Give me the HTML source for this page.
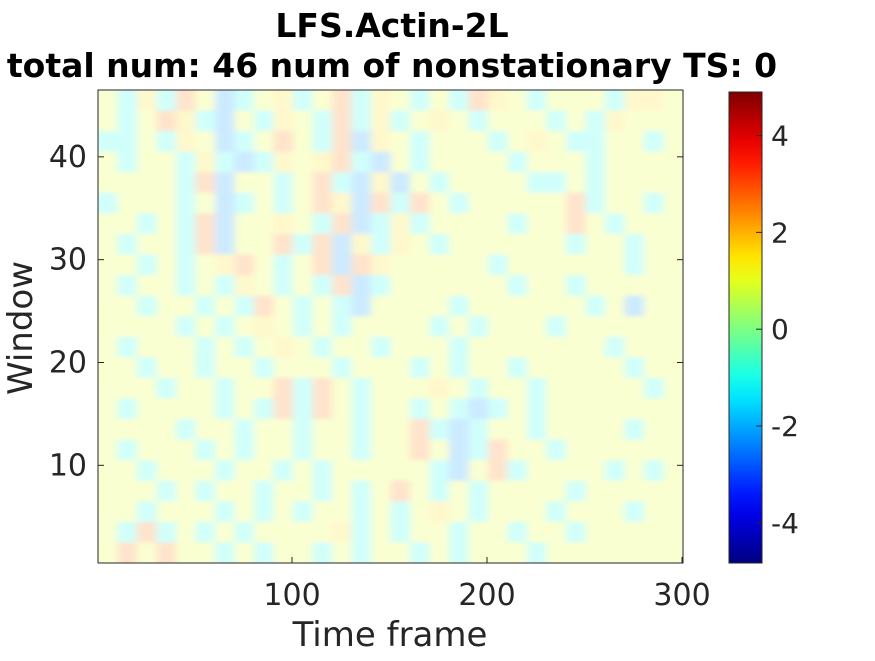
<!DOCTYPE html>
<html><head><meta charset="utf-8">
<style>
html,body{margin:0;padding:0;background:#fff;}
body{width:875px;height:656px;overflow:hidden;font-family:"Liberation Sans","DejaVu Sans",sans-serif;}
</style></head>
<body>
<svg id="chart" width="875" height="656" xmlns="http://www.w3.org/2000/svg" font-family="'DejaVu Sans','Liberation Sans',sans-serif">
<defs>
<clipPath id="pc"><rect x="98" y="90" width="585" height="473"/></clipPath>
<filter id="bl" x="-5%" y="-5%" width="110%" height="110%"><feGaussianBlur stdDeviation="4 2"/></filter>
</defs>
<text x="392" y="37" text-anchor="middle" font-size="33" font-weight="bold">LFS.Actin-2L</text>
<text x="392" y="77" text-anchor="middle" font-size="33" font-weight="bold">total num: 46 num of nonstationary TS: 0</text>
<rect x="98" y="90" width="585" height="473" fill="#f5fad9"/>
<g clip-path="url(#pc)"><g id="cells" filter="url(#bl)"></g></g>
<rect x="98" y="90" width="585" height="473" fill="none" stroke="#262626" stroke-width="1"/>
<g id="axes"></g>
<text x="390" y="646" text-anchor="middle" font-size="34" fill="#262626">Time frame</text>
<text transform="translate(32,328) rotate(-90)" text-anchor="middle" font-size="34" fill="#262626">Window</text>
<g id="cbar"></g>
</svg>
<script>
const xTicks=[100,200,300];
const yTicks=[10,20,30,40];
const cbTicks=[-4,-2,0,2,4];
const levelKeys=['a','b','c','d','e','f','g'];
const levelValues=[-3,-2.2,-1,1,1.6,2.6,3.5];
// rows from window 45-46 (top) down to 1-2; each char = 10 frames
const rows=[
"dcecfdbcdecdfcedcdcfedcdddceed",
"dcdfecbdcedcfcecdedcdddcdceddd",
"ccdcedbcdfdcfbedcdddcdedccddcd",
"dcddcecbcedefcbdcddddcdddcdddd",
"ddddcfbddcdfcbebdcddddccdcdddd",
"cdddcdbcdcdfebfcfdcdddddfcddcd",
"ddcdcfbddedcfbcecddddcddfdcddd",
"dcddcfbddfcfbecedcddddddcddcdd",
"ddcdcdefdcdfbfedddddcddddddcdd",
"dcddcdcedcdcfbcddddddcddcddddd",
"ddcddcdcfdcdcbddddcddddddcdbdd",
"ddddcdcdedcdcddddcdcdddcdddddd",
"dcdddcdcdedcddcdddcdddddddcddd",
"ddcddcddcdddcdddcdcddcdddddcdd",
"dddcddcddfcfdcdddedcddcdddddcd",
"dcddddcdcfcfdcddcdcbcdcddddddd",
"ddddcddcddcddcddfcbcddcddddcdd",
"dcdddcdcddcddcddfdbcfddcdddddd",
"ddcdddcddcdcdddddcbdfcddddcdcd",
"dddcdcddcddcdcdfdcdcddddcddddd",
"ddcdddcdcdcddcdcdedcdddcdddcdd",
"dcfcdcdcddddecdcddcddcddcddddd",
"dfdfddcdcddcdcddcdcdddcddddddd"
];
const NS="http://www.w3.org/2000/svg";
const X0=98,X1=683,Y0=90,Y1=563;
const xs=t=>X0+(t-0.5)/300*(X1-X0);
const ys=w=>Y1-(w-0.5)/46*(Y1-Y0);
const vmin=-4.83,vmax=4.9;
const cbY0=92,cbY1=563;
const cbs=v=>cbY1-(v-vmin)/(vmax-vmin)*(cbY1-cbY0);
function jet(v){
 let t=(v-vmin)/(vmax-vmin);t=Math.max(0,Math.min(1,t));
 const f=x=>Math.max(0,Math.min(1,1.5-Math.abs(4*t-x)));
 return [f(3),f(2),f(1)];
}
function css(c,a){return 'rgb('+c.map(x=>Math.round(255*(1-a)+255*x*a)).join(',')+')';}
const cells=document.getElementById('cells');
rows.forEach((row,ri)=>{
 const wTop=46-ri*2+0.5, wBot=wTop-2;
 for(let k=0;k<30;k++){
  const ch=row[k]||'d';
  const v=levelValues[levelKeys.indexOf(ch)];
  const r=document.createElementNS(NS,'rect');
  
  
  const x=xs(k*10+0.5),x2=xs(k*10+10.5);
  r.setAttribute('x',x-(k==0?10:0));r.setAttribute('y',ys(wTop)-(ri==0?10:0));
  r.setAttribute('width',x2-x+0.5+(k==0||k==29?10:0));r.setAttribute('height',ys(wBot)-ys(wTop)+0.5+(ri==0||ri==rows.length-1?10:0));
  r.setAttribute('fill',css(jet(v),0.2));
  cells.appendChild(r);
 }
});
const ax=document.getElementById('axes');
function add(tag,attrs,txt){const e=document.createElementNS(NS,tag);for(const k in attrs)e.setAttribute(k,attrs[k]);if(txt!==undefined)e.textContent=txt;return e;}
xTicks.forEach(t=>{
 const x=xs(t);
 const l=add('line',{x1:x,x2:x,y1:Y1,y2:Y1-6,stroke:'#262626'});
 
 
 ax.appendChild(l);
 const s=add('text',{x:x,y:605,'text-anchor':'middle','font-size':'30',fill:'#262626'},t);
 
 
 ax.appendChild(s);
});
yTicks.forEach(t=>{
 const y=ys(t);
 const l=add('line',{x1:X0,x2:X0+6,y1:y,y2:y,stroke:'#262626'});
 
 
 ax.appendChild(l);
 const l2=add('line',{x1:X1,x2:X1-6,y1:y,y2:y,stroke:'#262626'});
 
 
 ax.appendChild(l2);
 const s=add('text',{x:87,y:y+10,'text-anchor':'end','font-size':'30',fill:'#262626'},t);
 
 
 ax.appendChild(s);
});
const cb=document.getElementById('cbar');
const defs=add('defs',{});
const grad=add('linearGradient',{id:'jetg',x1:'0',y1:'1',x2:'0',y2:'0'});
for(let i=0;i<=20;i++){const v=vmin+(vmax-vmin)*i/20;grad.appendChild(add('stop',{offset:i/20,'stop-color':css(jet(v),1)}));}
defs.appendChild(grad);cb.appendChild(defs);
const cr=add('rect',{x:729,y:cbY0,width:33,height:cbY1-cbY0,fill:'url(#jetg)',stroke:'#262626'});


cb.appendChild(cr);
cbTicks.forEach(t=>{
 const y=cbs(t);
 const l=add('line',{x1:756,x2:762,y1:y,y2:y,stroke:'#262626'});
 
 
 cb.appendChild(l);
 const s=add('text',{x:771,y:y+10,'font-size':'28',fill:'#262626'},t);
 
 
 cb.appendChild(s);
});
</script>
</body></html>
